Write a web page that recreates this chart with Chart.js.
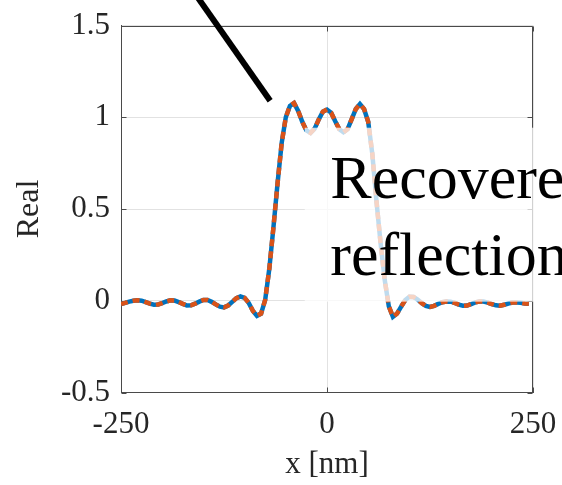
<!DOCTYPE html>
<html>
<head>
<meta charset="utf-8">
<script src="https://cdn.jsdelivr.net/npm/chart.js@4"></script>
<style>
  html, body { margin: 0; padding: 0; background: #fff; }
  #c { display: block; }
</style>
</head>
<body>
<canvas id="c" width="562" height="485"></canvas>
<script>
// Position along the line, nm
const xNm = [
  -250,-245,-240,-235,-230,-225,-220,-215,-210,-205,
  -200,-195,-190,-185,-180,-175,-170,-165,-160,-155,
  -150,-145,-140,-135,-130,-125,-120,-115,-110,-105,
  -100,-95,-90,-85,-80,-75,-70,-65,-60,-55,
  -50,-45,-40,-35,-30,-25,-20,-15,-10,-5,
  0,5,10,15,20,25,30,35,40,45,
  50,55,60,65,70,75,80,85,90,95,
  100,105,110,115,120,125,130,135,140,145,
  150,155,160,165,170,175,180,185,190,195,
  200,205,210,215,220,225,230,235,240,245
];

// Real part of the reflection profile
const realPart = [
  -0.018,-0.012,-0.005,0.000,0.002,0.000,-0.008,-0.016,-0.022,-0.020,
  -0.013,-0.004,0.002,0.001,-0.007,-0.017,-0.026,-0.025,-0.016,-0.005,
  0.004,0.004,-0.006,-0.020,-0.032,-0.036,-0.026,-0.006,0.014,0.024,
  0.016,-0.012,-0.055,-0.082,-0.070,0.005,0.175,0.400,0.640,0.860,
  1.000,1.062,1.077,1.035,0.975,0.928,0.915,0.938,0.988,1.030,
  1.042,1.025,0.978,0.935,0.918,0.935,0.990,1.045,1.072,1.045,
  0.975,0.800,0.545,0.315,0.115,-0.030,-0.088,-0.070,-0.032,0.004,
  0.022,0.021,0.006,-0.013,-0.028,-0.034,-0.028,-0.017,-0.008,-0.004,
  -0.005,-0.012,-0.021,-0.027,-0.026,-0.018,-0.009,-0.004,-0.004,-0.010,
  -0.018,-0.025,-0.027,-0.022,-0.015,-0.010,-0.009,-0.011,-0.015,-0.017
];

const xTicks = [-250, 0, 250];
const yTicks = [-0.5, 0, 0.5, 1, 1.5];
const xTickLabels = ['-250', '0', '250'];
const yTickLabels = ['-0.5', '0', '0.5', '1', '1.5'];

const calloutLines = ['Recovered', 'reflection'];

const AXIS = '#4a4a4a';
const GRID = '#e2e2e2';
const TEXT = '#262626';
const FONT = "'Liberation Serif', 'DejaVu Serif', serif";

const points = xNm.map((x, i) => ({ x, y: realPart[i] }));

// Frame on the top/right sides plus inward tick marks on all four sides
const frame = {
  id: 'frame',
  beforeDatasetsDraw(chart) {
    const { ctx, chartArea: a, scales } = chart;
    const L = Math.round(a.left) + 0.5, R = Math.round(a.right) - 0.5;
    const T = Math.round(a.top) + 0.5, B = Math.round(a.bottom) - 0.5;
    ctx.save();
    ctx.strokeStyle = AXIS;
    ctx.lineWidth = 1;
    ctx.beginPath();
    ctx.moveTo(L, T); ctx.lineTo(R, T); ctx.lineTo(R, B);
    const len = 5;
    xTicks.forEach(v => {
      const px = Math.round(scales.x.getPixelForValue(v)) + 0.5;
      ctx.moveTo(px, B); ctx.lineTo(px, B - len);
      ctx.moveTo(px, T); ctx.lineTo(px, T + len);
    });
    yTicks.forEach(v => {
      const py = Math.round(scales.y.getPixelForValue(v)) + 0.5;
      ctx.moveTo(L, py); ctx.lineTo(L + len, py);
      ctx.moveTo(R, py); ctx.lineTo(R - len, py);
    });
    ctx.stroke();
    ctx.restore();
  }
};

// Translucent white backing behind the callout text
const calloutBox = { x0: -27, yTop: 0.943, yBottom: -0.005 };
const backing = {
  id: 'backing',
  afterDatasetsDraw(chart) {
    const { ctx, scales } = chart;
    const x0 = scales.x.getPixelForValue(calloutBox.x0);
    const y0 = scales.y.getPixelForValue(calloutBox.yTop);
    const y1 = scales.y.getPixelForValue(calloutBox.yBottom);
    ctx.save();
    ctx.fillStyle = 'rgba(255,255,255,0.75)';
    ctx.fillRect(x0, y0, chart.width - x0, y1 - y0);
    ctx.restore();
  }
};

// Callout text and pointer stroke
const calloutText = { x: 4, baselines: [0.562, 0.142] };
const pointer = { from: { x: -158, y: 1.66 }, to: { x: -69, y: 1.09 } };
const callout = {
  id: 'callout',
  afterDraw(chart) {
    const { ctx, scales } = chart;
    ctx.save();
    ctx.fillStyle = '#000';
    ctx.font = "62px 'Liberation Serif', serif";
    ctx.textAlign = 'left';
    ctx.textBaseline = 'alphabetic';
    calloutLines.forEach((t, i) => {
      ctx.fillText(t, scales.x.getPixelForValue(calloutText.x),
                   scales.y.getPixelForValue(calloutText.baselines[i]));
    });
    ctx.strokeStyle = '#000';
    ctx.lineWidth = 6;
    ctx.lineCap = 'butt';
    ctx.beginPath();
    ctx.moveTo(scales.x.getPixelForValue(pointer.from.x), scales.y.getPixelForValue(pointer.from.y));
    ctx.lineTo(scales.x.getPixelForValue(pointer.to.x), scales.y.getPixelForValue(pointer.to.y));
    ctx.stroke();
    ctx.restore();
  }
};

Chart.defaults.font.family = FONT;

new Chart(document.getElementById('c'), {
  type: 'line',
  data: {
    datasets: [
      {
        data: points,
        borderColor: '#D95319',
        borderWidth: 4.5,
        borderDash: [7, 5],
        borderCapStyle: 'butt',
        pointRadius: 0,
        tension: 0,
        order: 0
      },
      {
        data: points,
        borderColor: '#0072BD',
        borderWidth: 4.5,
        borderCapStyle: 'butt',
        pointRadius: 0,
        tension: 0,
        order: 1
      }
    ]
  },
  options: {
    responsive: false,
    animation: false,
    devicePixelRatio: 1,
    layout: { padding: { left: 0, right: 29, top: 25.5, bottom: 0 } },
    plugins: { legend: { display: false }, tooltip: { enabled: false } },
    scales: {
      x: {
        type: 'linear',
        min: -250, max: 250,
        afterBuildTicks(s) { s.ticks = xTicks.map(v => ({ value: v })); },
        ticks: {
          callback: (v) => xTickLabels[xTicks.indexOf(v)],
          color: TEXT, font: { size: 31 }, padding: 14,
          maxRotation: 0, autoSkip: false
        },
        grid: { color: GRID, drawTicks: false },
        border: { display: true, color: AXIS },
        title: {
          display: true, text: 'x [nm]', color: TEXT,
          font: { size: 31 }, padding: { top: 0, bottom: 2 }
        },
        afterFit(s) { s.height = 92.5; s.paddingLeft = 0; s.paddingRight = 0; }
      },
      y: {
        min: -0.5, max: 1.5,
        afterBuildTicks(s) { s.ticks = yTicks.map(v => ({ value: v })); },
        ticks: {
          callback: (v) => yTickLabels[yTicks.indexOf(v)],
          color: TEXT, font: { size: 31 }, padding: 11, autoSkip: false
        },
        grid: { color: GRID, drawTicks: false },
        border: { display: true, color: AXIS },
        title: {
          display: true, text: 'Real', color: TEXT,
          font: { size: 32 }, padding: { top: 10, bottom: 0 }
        },
        afterFit(s) { s.width = 121; s.paddingTop = 0; s.paddingBottom = 0; }
      }
    }
  },
  plugins: [frame, backing, callout]
});
</script>
</body>
</html>
